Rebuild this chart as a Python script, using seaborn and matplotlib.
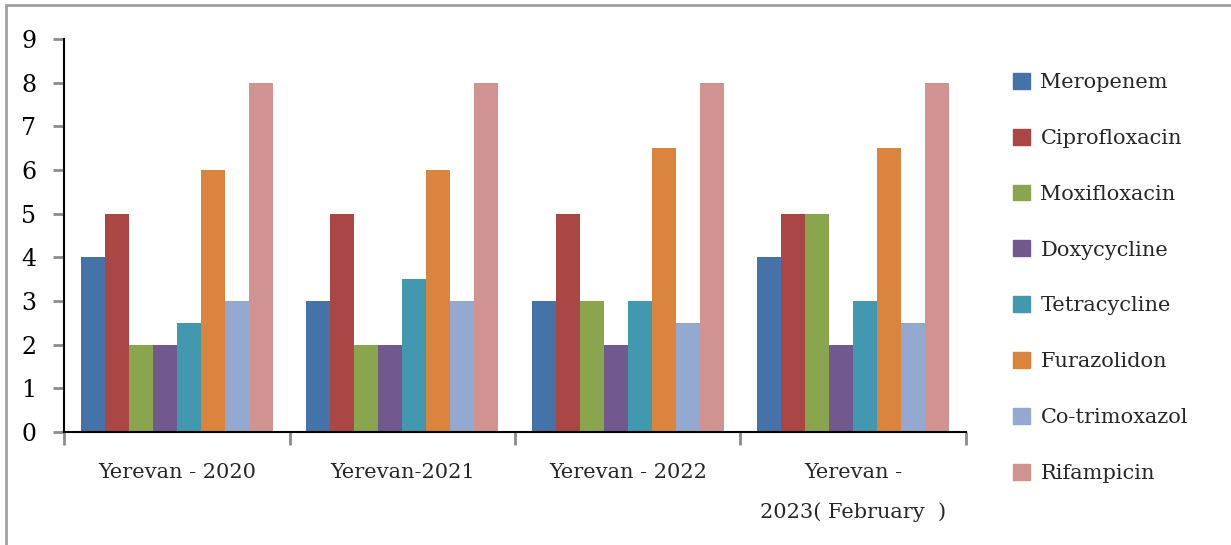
import matplotlib
matplotlib.use("Agg")
import matplotlib.pyplot as plt
import matplotlib.patches as mpatches
import seaborn as sns
import pandas as pd

groups = ["Yerevan - 2020", "Yerevan-2021", "Yerevan - 2022", "Yerevan -\n2023( February  )"]
drugs = ["Meropenem", "Ciprofloxacin", "Moxifloxacin", "Doxycycline",
         "Tetracycline", "Furazolidon", "Co-trimoxazol", "Rifampicin"]
meropenem = [4, 3, 3, 4]
ciprofloxacin = [5, 5, 5, 5]
moxifloxacin = [2, 2, 3, 5]
doxycycline = [2, 2, 2, 2]
tetracycline = [2.5, 3.5, 3, 3]
furazolidon = [6, 6, 6.5, 6.5]
cotrimoxazol = [3, 3, 2.5, 2.5]
rifampicin = [8, 8, 8, 8]
colors = ["#4572A7", "#AA4643", "#89A54E", "#71588F",
          "#4198AF", "#DB843D", "#93A9CF", "#D19392"]

series = [meropenem, ciprofloxacin, moxifloxacin, doxycycline,
          tetracycline, furazolidon, cotrimoxazol, rifampicin]
rows = []
for d, vals in zip(drugs, series):
    for g, v in zip(groups, vals):
        rows.append({"group": g, "drug": d, "value": v})
df = pd.DataFrame(rows)

sns.set_theme(style="white")
plt.rcParams["font.family"] = ["DejaVu Serif"]

fig = plt.figure(figsize=(12.31, 5.45), dpi=100)
ax = fig.add_axes([0.052, 0.2073, 0.7327, 0.7211])

sns.barplot(data=df, x="group", y="value", hue="drug", order=groups,
            hue_order=drugs, palette=colors, width=0.85, saturation=1,
            linewidth=0, ax=ax)

ax.set_xlim(-0.5, 3.5)
ax.set_ylim(0, 9)
ax.set_yticks(range(0, 10))
ax.set_xlabel("")
ax.set_ylabel("")
for s in ["top", "right"]:
    ax.spines[s].set_visible(False)
for s in ["left", "bottom"]:
    ax.spines[s].set_color("black")
    ax.spines[s].set_linewidth(1.5)

ax.set_xticks([-0.5, 0.5, 1.5, 2.5, 3.5])
ax.set_xticklabels([])
ax.set_xticks(range(4), minor=True)
ax.set_xticklabels(groups, minor=True, fontsize=15, linespacing=2.3, va="top")
ax.tick_params(axis="x", which="major", direction="out", length=9, width=2,
               color="#8c8c8c", bottom=True)
ax.tick_params(axis="x", which="minor", length=0, pad=22, bottom=True)
ax.tick_params(axis="y", direction="out", length=8, width=2, color="#8c8c8c",
               labelsize=17, pad=12, left=True)
for t in ax.get_yticklabels():
    t.set_color("black")

handles = [mpatches.Patch(color=c, label=d) for c, d in zip(colors, drugs)]
if ax.get_legend() is not None:
    ax.get_legend().remove()
fig.legend(handles=handles, loc="center left", bbox_to_anchor=(0.808, 0.49),
           frameon=False, fontsize=15, labelspacing=1.76, handlelength=0.8,
           handleheight=0.8, handletextpad=0.5)

border = mpatches.Rectangle((0.005, -0.02), 1.1, 1.011, transform=fig.transFigure,
                            fill=False, edgecolor="#a0a0a0", linewidth=2)
fig.patches.append(border)

fig.savefig("out.png", dpi=100)
